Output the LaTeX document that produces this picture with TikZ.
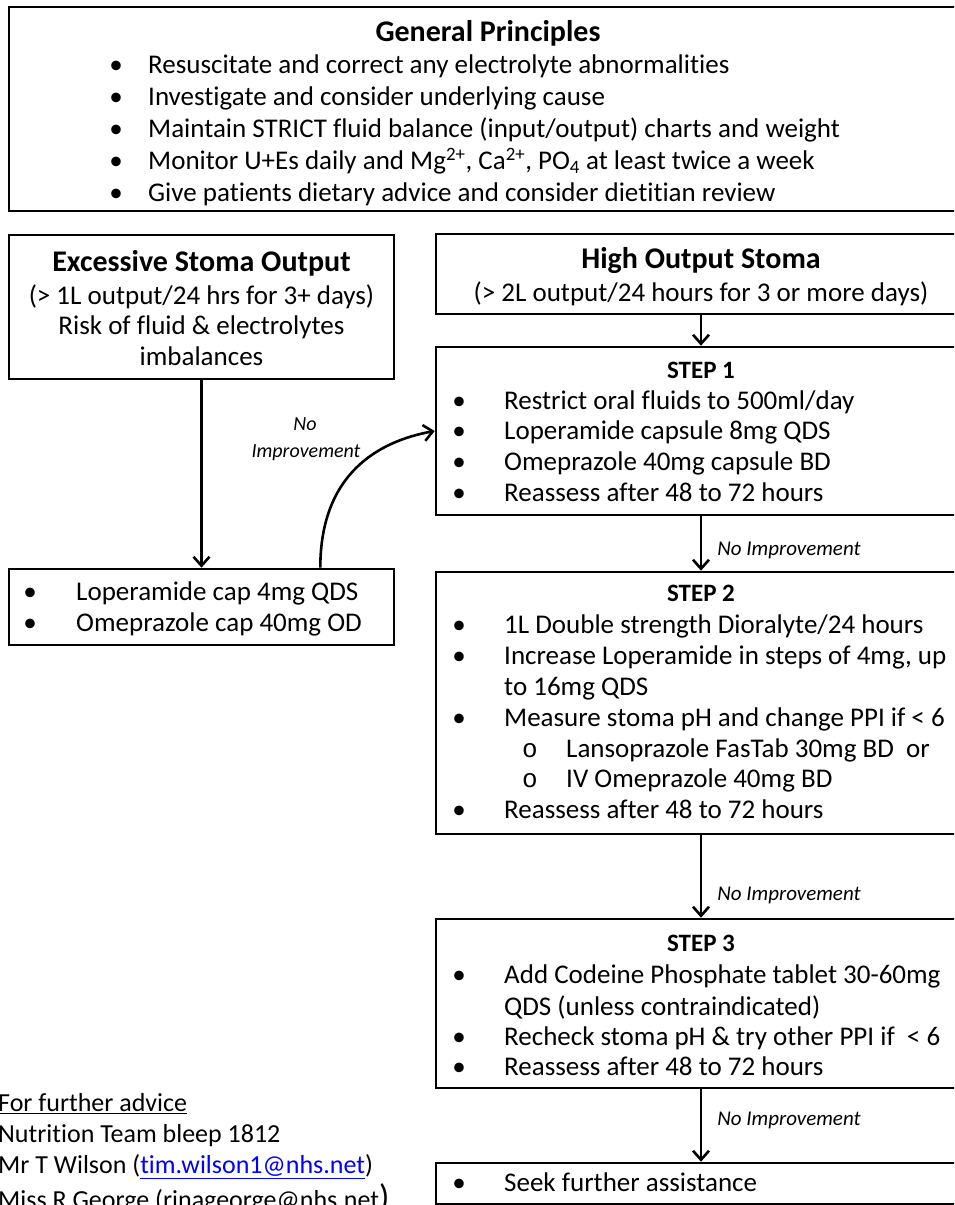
\documentclass[tikz,border=0pt]{standalone}
\usepackage{fontspec}
\setmainfont{Carlito}[Ligatures=NoCommon]
\newfontfamily\monofnt{Liberation Mono}
\usetikzlibrary{arrows.meta}
\definecolor{linkblue}{RGB}{0,0,255}
\tikzset{
  box/.style={draw, line width=2.6pt, rectangle, inner sep=0pt},
  txt/.style={inner sep=0pt, yshift=-6pt, font=\fontsize{27}{32}\selectfont},
  foot/.style={inner sep=0pt, yshift=-6pt, font=\fontsize{26}{31}\selectfont, anchor=mid west},
  ttl/.style={inner sep=0pt, yshift=-6pt, font=\bfseries\fontsize{30}{36}\selectfont, anchor=mid},
  steptitle/.style={inner sep=0pt, yshift=-6pt, font=\bfseries\fontsize{25}{30}\selectfont, anchor=mid},
  lbl/.style={inner sep=0pt, yshift=-6pt, font=\itshape\fontsize{21}{25}\selectfont},
  bul/.style={inner sep=0pt, yshift=-6pt, font=\fontsize{27}{32}\selectfont, anchor=mid},
  subbul/.style={inner sep=0pt, yshift=-6pt, font=\monofnt\fontsize{26}{30}\selectfont, anchor=mid},
  arr/.style={line width=2.6pt, -{Straight Barb[length=9pt,width=16pt]}},
}
\newcommand{\mybline}[5]{%
  \node[bul] (#1b) at (#2,#4) {\textbullet};
  \node[txt, anchor=mid west] (#1) at (#3,#4) {#5};}
\begin{document}
\begin{tikzpicture}[x=1pt,y=-1pt]
\path[use as bounding box, clip] (0,0) rectangle (954,1205);
\fill[white] (0,0) rectangle (954,1205);

% General principles
\node[box, minimum width=957pt, minimum height=204pt] (gp) at (487.5,109) {};
\node[ttl] (gpt) at (488,33) {General Principles};
\mybline{gp1}{116}{148}{65}{Resuscitate and correct any electrolyte abnormalities}
\mybline{gp2}{116}{148}{97}{Investigate and consider underlying cause}
\mybline{gp3}{116}{148}{129}{Maintain STRICT fluid balance (input/output) charts and weight}
\mybline{gp4}{116}{148}{161}{Monitor U+Es daily and Mg\textsuperscript{2+}, Ca\textsuperscript{2+}, PO\textsubscript{4} at least twice a week}
\mybline{gp5}{116}{148}{193}{Give patients dietary advice and consider dietitian review}

% Excessive stoma output
\node[box, minimum width=385pt, minimum height=144pt] (exc) at (201.5,307) {};
\node[ttl] (exct) at (201.5,263) {Excessive Stoma Output};
\node[txt, anchor=mid] (exc1) at (201.5,296) {(> 1L output/24 hrs for 3+ days)};
\node[txt, anchor=mid] (exc2) at (201.5,326) {Risk of fluid \& electrolytes};
\node[txt, anchor=mid] (exc3) at (201.5,357) {imbalances};

% Loperamide box
\node[box, minimum width=385pt, minimum height=76pt] (lop) at (201.5,607) {};
\mybline{lop1}{30}{76}{592}{Loperamide cap 4mg QDS}
\mybline{lop2}{30}{76}{623}{Omeprazole cap 40mg OD}

% High output stoma
\node[box, minimum width=530pt, minimum height=80pt] (hos) at (701,274) {};
\node[ttl] (host) at (701,260) {High Output Stoma};
\node[txt, anchor=mid] (hos1) at (701,293) {(> 2L output/24 hours for 3 or more days)};

% Step 1
\node[box, minimum width=530pt, minimum height=168pt] (s1) at (701,431) {};
\node[steptitle] (s1t) at (701,370) {STEP 1};
\mybline{s1a}{459}{504}{401}{Restrict oral  fluids to 500ml/day}
\mybline{s1c}{459}{504}{431}{Loperamide capsule 8mg QDS}
\mybline{s1d}{459}{504}{462}{Omeprazole 40mg capsule BD}
\mybline{s1e}{459}{504}{493}{Reassess after 48 to 72 hours}

% Step 2
\node[box, minimum width=530pt, minimum height=262pt] (s2) at (701,703) {};
\node[steptitle] (s2t) at (701,593) {STEP 2};
\mybline{s2a}{459}{504}{625}{1L Double strength Dioralyte/24 hours}
\mybline{s2c}{459}{504}{656}{Increase Loperamide in steps of 4mg, up}
\node[txt, anchor=mid west] (s2c2) at (504,687) {to 16mg QDS};
\mybline{s2d}{459}{504}{718}{Measure stoma pH and change PPI if < 6}
\node[subbul] (s2e1b) at (530,749) {o};
\node[txt, anchor=mid west] (s2e1) at (566,749) {Lansoprazole FasTab 30mg BD\ \ or};
\node[subbul] (s2e2b) at (530,779) {o};
\node[txt, anchor=mid west] (s2e2) at (566,779) {IV Omeprazole 40mg BD};
\mybline{s2f}{459}{504}{810}{Reassess after 48 to 72 hours}

% Step 3
\node[box, minimum width=530pt, minimum height=169pt] (s3) at (701,1003.5) {};
\node[steptitle] (s3t) at (701,943) {STEP 3};
\mybline{s3a}{459}{504}{975}{Add Codeine Phosphate tablet 30-60mg}
\node[txt, anchor=mid west] (s3a2) at (504,1007) {QDS (unless contraindicated)};
\mybline{s3c}{459}{504}{1037}{Recheck stoma pH \& try other PPI if\ \ < 6}
\mybline{s3d}{459}{504}{1067}{Reassess after 48 to 72 hours}

% Final box
\node[box, minimum width=530pt, minimum height=41pt] (fin) at (701,1183.5) {};
\mybline{fin1}{459}{504}{1183}{Seek further assistance}

% Connectors
\draw[arr] (exc.south) -- (lop.north);
\draw[arr] ([xshift=-75pt]lop.north east) .. controls +(0,-95) and +(-55,10) .. (s1.west);
\node[lbl, anchor=mid, font=\itshape\fontsize{20}{24}\selectfont] (cl1) at (305,422) {No};
\node[lbl, anchor=mid, font=\itshape\fontsize{20}{24}\selectfont] (cl2) at (306,449) {Improvement};
\draw[arr] (hos.south) -- (s1.north);
\draw[arr] (s1.south) -- node[lbl, pos=0.56, anchor=mid west, xshift=15pt] (l1) {No Improvement} (s2.north);
\draw[arr] (s2.south) -- node[lbl, pos=0.69, anchor=mid west, xshift=15pt] (l2) {No Improvement} (s3.north);
\draw[arr] (s3.south) -- node[lbl, pos=0.39, anchor=mid west, xshift=15pt] (l3) {No Improvement} (fin.north);

% Footer
\node[foot] (f1) at (-2,1103) {\underline{For further advice}};
\node[foot] (f2) at (-2,1134) {Nutrition Team bleep 1812};
\node[foot] (f3) at (-2,1165) {Mr T Wilson (\textcolor{linkblue}{\underline{tim.wilson1@nhs.net}})};
\node[foot] (f4) at (-2,1200) {Miss R George (rinageorge@nhs.net{\fontsize{34}{34}\selectfont )}};
\end{tikzpicture}
\end{document}
